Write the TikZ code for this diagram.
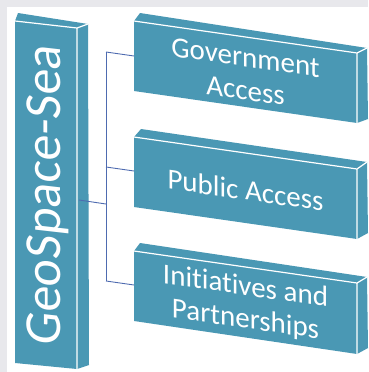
\documentclass[tikz,border=0pt]{standalone}
\usepackage{fontspec}
\setmainfont{Carlito}[Ligatures={NoCommon}]
\definecolor{tealface}{HTML}{4A98B4}
\definecolor{bggray}{HTML}{E8E8EC}
\definecolor{linkblue}{HTML}{4E6BB0}
\begin{document}
\begin{tikzpicture}[x=1pt,y=-1pt,
  edge/.style={draw=white, line width=1.2pt, line join=round},
  link/.style={draw=linkblue, line width=0.9pt},
  lbl/.style={text=white, font=\fontsize{29}{33}\selectfont, align=center, transform shape, inner sep=0pt}]
\fill[bggray] (0,0) rectangle (368,372);
\fill[white] (7,7) rectangle (368,372);
\useasboundingbox (0,0) rectangle (368,372);
% left box
\coordinate (LA) at (15,21);
\coordinate (LB) at (77,28);
\coordinate (LC) at (77,369);
\coordinate (LD) at (15,363);
\coordinate (LE) at (18,13);
\coordinate (LF) at (88,24);
\coordinate (LG) at (89,365);
\fill[tealface] (LA)--(LE)--(LF)--(LG)--(LC)--(LD)--cycle;
\draw[edge] (LA)--(LB)--(LC) (LB)--(LF);
% box 1
\coordinate (AA) at (134,21);
\coordinate (AB) at (357,53);
\coordinate (AC) at (357,123);
\coordinate (AD) at (134,91);
\coordinate (AE) at (140,13);
\coordinate (AF) at (367,48);
\coordinate (AG) at (368,119);
\fill[tealface] (AA)--(AE)--(AF)--(AG)--(AC)--(AD)--cycle;
\draw[edge] (AA)--(AB)--(AC) (AB)--(AF);
% box 2
\coordinate (BA) at (134,137);
\coordinate (BB) at (357,169);
\coordinate (BC) at (357,239);
\coordinate (BD) at (134,207);
\coordinate (BE) at (141,129);
\coordinate (BF) at (367,162);
\coordinate (BG) at (368,233);
\fill[tealface] (BA)--(BE)--(BF)--(BG)--(BC)--(BD)--cycle;
\draw[edge] (BA)--(BB)--(BC) (BB)--(BF);
% box 3
\coordinate (CA) at (134,251);
\coordinate (CB) at (357,283);
\coordinate (CC) at (357,354);
\coordinate (CD) at (134,321);
\coordinate (CE) at (140,243);
\coordinate (CF) at (367,277);
\coordinate (CG) at (368,348);
\fill[tealface] (CA)--(CE)--(CF)--(CG)--(CC)--(CD)--cycle;
\draw[edge] (CA)--(CB)--(CC) (CB)--(CF);
% texts
\begin{scope}[shift={(48,195)}, yslant=-0.113]
\node[lbl, rotate=90, font=\fontsize{52}{60}\selectfont] (geo) at (0,0) {GeoSpace-Sea};
\end{scope}
\begin{scope}[shift={(245.5,74)}, yslant=-0.1435]
\node[lbl] (gov) at (0,0) {Government\\Access};
\end{scope}
\begin{scope}[shift={(245.5,190)}, yslant=-0.1435]
\node[lbl] (pub) at (0,0) {Public Access};
\end{scope}
\begin{scope}[shift={(245.5,304)}, yslant=-0.1435]
\node[lbl] (ini) at (0,0) {Initiatives and\\Partnerships};
\end{scope}
% connectors
\coordinate (J1) at (106,52);
\coordinate (J2) at (106,167);
\coordinate (J3) at (106,281);
\coordinate (J0) at (106,204);
\coordinate (L0) at (79,200);
\coordinate (A0) at (134,56);
\coordinate (B0) at (134,171);
\coordinate (C0) at (134,285);
\draw[link] (J1)--(J3);
\draw[link] (L0)--(J0);
\draw[link] (J1)--(A0);
\draw[link] (J2)--(B0);
\draw[link] (J3)--(C0);
\end{tikzpicture}
\end{document}
